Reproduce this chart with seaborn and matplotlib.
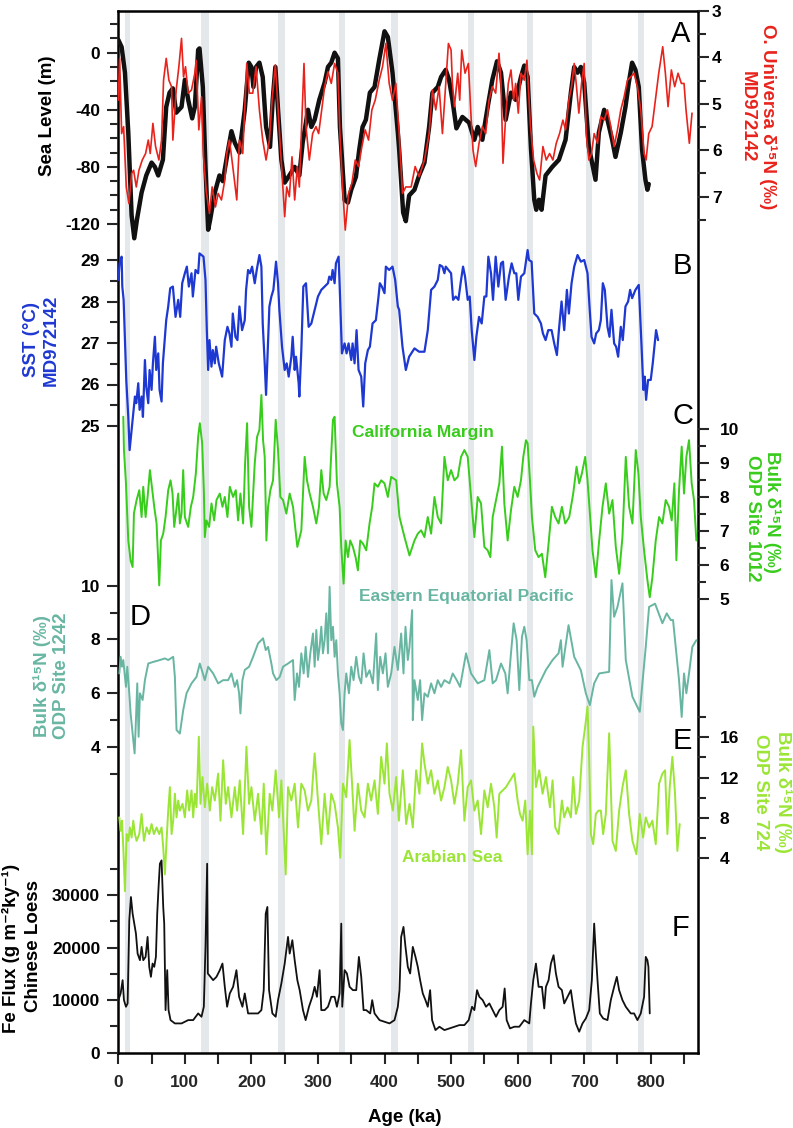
import matplotlib
matplotlib.use("Agg")
import matplotlib.pyplot as plt
import seaborn as sns

# ---------------- data ----------------
band_start = [10, 124, 240, 332, 410, 525, 614, 703, 781]
band_end = [18, 136, 250, 340, 420, 534, 623, 712, 790]

sl_age = [0, 5, 10, 15, 20, 24, 28, 35, 42, 50, 55, 60, 67, 72, 77, 82, 87, 95, 100, 105, 111, 115, 120, 122,
          127, 131, 135, 138, 145, 152, 157, 165, 170, 175, 182, 190, 196, 200, 203, 207, 212, 217, 222, 228,
          232, 236, 240, 245, 250, 257, 265, 272, 277, 285, 290, 295, 302, 310, 315, 320, 325, 330, 333, 340,
          345, 350, 357, 362, 367, 372, 378, 385, 392, 400, 405, 412, 420, 422, 428, 432, 437, 445, 452, 460,
          467, 472, 480, 485, 492, 497, 502, 508, 517, 527, 535, 540, 547, 555, 562, 569, 575, 582, 590, 597,
          605, 610, 615, 620, 625, 628, 632, 636, 642, 652, 662, 672, 680, 685, 690, 695, 700, 707, 717, 722,
          730, 735, 742, 747, 755, 762, 767, 772, 777, 782, 787, 792, 795, 797]
sl_val = [9, 4, -14, -56, -114, -130, -117, -98, -86, -77, -80, -86, -75, -38, -28, -25, -42, -38, -19, -33, -46,
          -38, 2, 3, -24, -80, -124, -117, -98, -86, -90, -68, -55, -63, -70, -40, -7, -10, -24, -10, -7, -17,
          -52, -66, -33, -10, -40, -75, -91, -86, -80, -86, -63, -40, -52, -47, -33, -21, -10, -7, 0, -4, -52,
          -103, -105, -96, -87, -68, -52, -47, -28, -24, -5, 15, 11, -14, -56, -68, -112, -118, -100, -96, -86,
          -77, -52, -28, -24, -17, -12, -19, -33, -53, -45, -49, -61, -52, -61, -38, -19, -6, -14, -47, -28,
          -33, -17, -9, -17, -67, -103, -110, -103, -110, -86, -80, -75, -61, -28, -10, -14, -10, -21, -66,
          -89, -56, -40, -47, -61, -73, -56, -38, -21, -7, -12, -24, -68, -89, -96, -92]

ou_age = [0, 2, 5, 8, 12, 16, 20, 23, 27, 31, 36, 41, 45, 48, 52, 56, 61, 65, 68, 72, 76, 80, 82, 87, 91, 95,
          98, 101, 105, 110, 115, 117, 121, 125, 128, 132, 137, 141, 146, 150, 155, 160, 163, 167, 172, 178,
          182, 187, 193, 197, 202, 207, 212, 217, 222, 227, 231, 236, 241, 246, 250, 253, 257, 261, 265, 269,
          272, 276, 279, 282, 287, 292, 297, 301, 305, 310, 315, 320, 325, 330, 333, 337, 341, 346, 351, 356,
          361, 366, 371, 376, 381, 386, 392, 397, 402, 407, 412, 417, 422, 427, 432, 440, 446, 452, 460, 467,
          472, 477, 482, 487, 492, 496, 500, 502, 505, 510, 513, 516, 521, 526, 530, 533, 537, 542, 547, 552,
          557, 562, 567, 572, 575, 578, 582, 586, 590, 594, 597, 601, 605, 610, 614, 619, 624, 629, 633, 638,
          643, 648, 653, 658, 663, 668, 672, 677, 681, 685, 688, 692, 696, 700, 703, 707, 711, 715, 720, 725,
          730, 735, 740, 745, 750, 755, 760, 765, 770, 775, 780, 785, 790, 793, 797, 802, 807, 812, 818, 822,
          826, 831, 836, 841, 846, 850, 853, 858, 862]
ou_val = [4.92, 4.02, 5.64, 5.49, 6.79, 7.15, 6.50, 6.43, 6.79, 6.43, 6.21, 6.07, 5.78, 6.07, 5.42, 5.92, 6.21,
          5.78, 4.49, 4.02, 4.49, 4.63, 5.78, 4.70, 4.20, 3.59, 4.42, 4.20, 4.77, 4.70, 4.34, 4.06, 5.56, 4.85,
          6.14, 6.86, 7.36, 6.79, 7.22, 6.93, 7.07, 6.64, 6.07, 5.78, 6.35, 7.07, 5.78, 6.07, 4.13, 4.77, 4.77,
          4.20, 5.13, 5.78, 6.21, 5.78, 4.92, 4.16, 5.35, 6.50, 7.43, 6.79, 7.00, 6.14, 7.07, 6.35, 6.79, 5.28,
          4.13, 5.49, 6.21, 5.64, 5.49, 5.64, 5.20, 4.63, 4.31, 4.56, 4.13, 4.34, 5.64, 6.79, 7.72, 6.93, 6.71,
          6.21, 6.35, 5.92, 5.56, 5.78, 5.13, 4.92, 4.49, 4.20, 3.70, 4.56, 4.92, 4.56, 5.64, 6.93, 6.79, 6.79,
          6.35, 6.57, 6.21, 5.64, 4.70, 5.13, 4.63, 5.64, 4.56, 3.70, 3.84, 4.56, 5.06, 4.34, 4.92, 3.84, 4.34,
          4.13, 5.28, 6.00, 6.35, 5.85, 5.49, 5.64, 4.92, 4.63, 4.77, 3.91, 4.56, 6.28, 5.28, 4.56, 4.27, 4.92,
          4.56, 5.20, 4.34, 4.49, 4.06, 5.42, 6.21, 6.50, 6.64, 5.92, 6.21, 6.07, 6.21, 5.85, 5.64, 5.35, 5.56,
          4.92, 4.63, 4.13, 4.56, 5.20, 4.56, 4.13, 5.64, 6.21, 6.07, 5.64, 5.85, 5.28, 5.35, 5.13, 5.49, 5.92,
          5.56, 5.13, 4.85, 4.49, 4.42, 4.34, 4.63, 5.13, 6.07, 6.21, 5.64, 5.49, 4.92, 4.34, 3.77, 4.34, 5.06,
          4.27, 4.63, 4.34, 4.56, 4.56, 5.13, 5.85, 5.20]

sst_age = [0, 2, 5, 6, 8, 10, 12, 15, 17, 20, 22, 25, 27, 30, 32, 35, 37, 40, 42, 45, 47, 50, 52, 55, 57, 60,
           62, 65, 67, 72, 75, 78, 82, 86, 90, 93, 96, 100, 103, 106, 110, 112, 116, 120, 122, 128, 131, 133,
           135, 137, 140, 142, 145, 147, 151, 156, 160, 164, 167, 170, 172, 176, 179, 182, 186, 190, 192, 195,
           198, 201, 205, 208, 212, 215, 217, 220, 222, 225, 227, 230, 233, 237, 240, 242, 246, 250, 253, 256,
           260, 262, 265, 267, 271, 272, 275, 278, 282, 286, 290, 295, 300, 305, 310, 315, 317, 320, 322, 325,
           327, 331, 333, 336, 340, 343, 346, 350, 352, 355, 358, 361, 365, 368, 371, 375, 378, 382, 387, 391,
           393, 396, 400, 402, 407, 412, 416, 420, 422, 427, 432, 437, 445, 452, 460, 465, 470, 475, 480, 483,
           487, 490, 492, 496, 500, 503, 507, 511, 515, 518, 521, 525, 528, 531, 535, 538, 542, 546, 550, 553,
           556, 560, 563, 567, 571, 575, 578, 582, 587, 591, 595, 598, 601, 605, 610, 615, 617, 621, 625, 630,
           635, 638, 642, 646, 651, 655, 659, 662, 666, 670, 674, 677, 681, 685, 690, 695, 700, 705, 708, 711,
           715, 718, 722, 725, 728, 731, 735, 738, 741, 745, 748, 751, 755, 758, 762, 766, 769, 772, 777, 782,
           786, 789, 791, 793, 796, 800, 803, 808, 811]
sst_val = [28.52, 28.92, 29.08, 28.36, 28.04, 27.07, 26.10, 25.22, 24.42, 24.90, 25.22, 25.71, 25.55, 26.03,
           25.39, 25.71, 25.22, 26.59, 25.95, 25.55, 26.35, 25.87, 26.51, 27.15, 26.35, 26.75, 25.87, 25.59,
           26.51, 27.55, 27.88, 28.32, 28.36, 27.63, 28.04, 27.63, 28.44, 28.68, 28.84, 28.36, 28.68, 28.12,
           28.76, 28.68, 29.16, 29.08, 28.52, 27.31, 26.35, 27.07, 26.43, 26.83, 26.51, 26.91, 26.51, 26.19,
           27.07, 27.39, 27.23, 26.91, 27.71, 27.15, 27.07, 27.88, 27.31, 27.55, 28.28, 28.76, 28.68, 28.84,
           28.44, 28.76, 29.12, 28.84, 27.47, 26.51, 25.75, 27.07, 27.88, 28.12, 28.28, 28.96, 28.44, 27.80,
           26.91, 26.35, 26.51, 26.19, 26.67, 27.15, 26.35, 26.67, 26.03, 25.71, 26.83, 28.36, 28.44, 27.39,
           27.47, 27.80, 28.12, 28.28, 28.36, 28.44, 28.60, 28.52, 28.76, 28.44, 28.92, 29.08, 28.20, 26.75,
           26.99, 26.75, 26.99, 26.59, 26.99, 26.51, 27.31, 26.35, 26.19, 25.47, 26.51, 26.83, 26.91, 27.47,
           27.55, 28.12, 28.44, 28.36, 28.20, 28.84, 28.76, 28.84, 28.52, 27.88, 27.80, 26.91, 26.35, 26.67,
           26.87, 26.79, 26.79, 27.31, 28.28, 28.36, 28.52, 28.88, 28.84, 28.68, 28.84, 28.76, 28.68, 28.04,
           28.12, 28.04, 28.52, 28.84, 28.60, 28.04, 28.12, 27.31, 26.59, 27.15, 27.63, 27.47, 28.12, 28.12,
           29.08, 28.68, 28.04, 29.08, 28.36, 28.92, 28.96, 28.04, 28.60, 28.92, 28.68, 28.68, 28.04, 28.60,
           28.68, 29.24, 29.00, 28.96, 27.71, 27.63, 27.47, 27.23, 27.07, 27.31, 27.31, 26.99, 26.71, 27.31,
           28.00, 27.31, 28.28, 27.71, 28.44, 28.84, 29.12, 28.96, 29.00, 28.68, 27.88, 27.15, 26.99, 27.23,
           27.31, 27.55, 28.44, 28.28, 27.39, 27.15, 27.80, 26.99, 26.91, 26.67, 27.39, 27.07, 27.88, 28.00,
           28.28, 28.08, 28.28, 28.40, 26.99, 25.87, 26.19, 25.63, 26.11, 26.11, 26.51, 27.31, 27.07]

cal_age = [7.5, 8.5, 11.5, 15, 18.5, 21.5, 23.5, 27.5, 31.5, 35, 37.5, 41, 44, 47.5, 51, 54, 57.5, 60, 61.5, 64,
           67.5, 71, 75, 78.5, 81.5, 84, 86.5, 90, 92.5, 95, 97.5, 100, 105, 109, 112.5, 116.5, 120, 122.5, 126,
           128.5, 130, 132.5, 136.5, 140, 144, 147.5, 152.5, 156.5, 160, 164, 167.5, 172.5, 176.5, 180, 183.5,
           187.5, 190.5, 193.5, 196.5, 200, 205, 208.5, 212, 215, 217.5, 220, 222.5, 225, 228.5, 232.5, 236.5,
           240, 243.5, 247.5, 252.5, 257.5, 262.5, 269, 275, 280, 283.5, 287.5, 292.5, 297.5, 301.5, 305, 308.5,
           312.5, 317.5, 322.5, 325, 328.5, 332.5, 335, 338.5, 341.5, 345, 348.5, 352.5, 356.5, 360, 363.5,
           367.5, 372.5, 377.5, 381.5, 385, 390, 395, 400, 405, 410, 417.5, 422.5, 430, 437.5, 445, 450, 455,
           460, 465, 470, 475, 480, 485, 490, 495, 500, 505, 510, 515, 520, 525, 530, 535, 540, 545, 550, 555,
           559, 562.5, 567.5, 572.5, 576.5, 580, 585, 590, 595, 600, 605, 608.5, 612.5, 615, 618.5, 621.5,
           626.5, 631.5, 636.5, 641.5, 646.5, 651.5, 656.5, 661.5, 666.5, 671.5, 677.5, 683.5, 688.5, 692.5,
           696.5, 701.5, 705, 708.5, 712.5, 717.5, 722.5, 727.5, 732.5, 737.5, 742.5, 747.5, 752.5, 757.5,
           762.5, 767.5, 772.5, 777.5, 781.5, 785, 790, 795, 798.5, 802.5, 807.5, 812.5, 817.5, 822.5, 827.5,
           831.5, 835.5, 838.5, 842.5, 846.5, 850, 853.5, 857.5, 861.5, 865, 868.5]
cal_val = [10.37, 9.39, 8.41, 6.73, 6.14, 5.95, 7.53, 7.92, 8.21, 7.42, 8.31, 7.42, 8.01, 8.80, 8.21, 7.72, 7.23,
           6.05, 5.41, 6.73, 6.93, 7.42, 8.21, 8.50, 8.11, 7.13, 7.52, 8.11, 7.23, 7.52, 8.80, 7.42, 7.13, 7.72,
           8.01, 8.70, 9.78, 10.18, 9.59, 8.21, 6.83, 7.32, 7.13, 7.82, 7.32, 7.92, 8.11, 7.72, 8.01, 7.42, 8.31,
           8.01, 8.21, 7.32, 8.11, 7.23, 9.00, 10.18, 7.72, 7.13, 9.00, 9.78, 9.98, 11.01, 9.68, 9.19, 6.73,
           7.72, 8.21, 8.50, 10.28, 9.39, 8.01, 7.92, 7.52, 8.11, 7.72, 6.54, 7.03, 9.19, 8.50, 8.11, 7.72, 7.23,
           7.72, 8.80, 8.11, 7.92, 8.31, 10.28, 10.37, 8.41, 7.72, 6.54, 5.46, 6.73, 6.24, 6.73, 6.54, 6.24,
           5.85, 6.73, 6.64, 6.44, 7.23, 7.72, 8.41, 8.31, 8.50, 8.41, 8.01, 8.60, 8.50, 7.42, 6.83, 6.29, 6.73,
           6.93, 7.03, 6.83, 7.42, 6.93, 8.01, 7.42, 7.23, 9.19, 8.50, 8.80, 8.50, 8.60, 9.19, 9.39, 9.19, 8.01,
           6.83, 8.01, 7.82, 6.54, 6.44, 6.24, 7.42, 7.92, 8.41, 9.49, 7.82, 6.73, 7.62, 8.31, 8.01, 8.50, 9.19,
           9.68, 9.59, 8.50, 7.42, 6.44, 6.24, 6.34, 5.65, 6.64, 7.72, 7.42, 7.23, 7.72, 7.23, 7.42, 8.11, 8.90,
           8.41, 8.70, 9.19, 8.50, 7.52, 6.44, 5.65, 6.73, 7.72, 8.41, 7.52, 7.92, 6.54, 5.75, 6.83, 9.19, 7.72,
           7.23, 9.39, 8.70, 7.42, 6.44, 5.56, 5.06, 5.65, 6.73, 7.42, 7.23, 7.92, 7.72, 7.32, 8.41, 6.15, 8.21,
           9.49, 8.11, 9.19, 9.68, 8.41, 7.92, 6.73]

eep_age = [1.5, 3.5, 5.5, 7.5, 9.5, 11.5, 13.5, 16.5, 18.5, 20.5, 22.5, 24.5, 26.5, 28.5, 30.5, 32.5, 36.5, 40,
           45, 52.5, 62.5, 70, 75, 82.5, 85, 87.5, 92.5, 97.5, 102.5, 110, 117.5, 122.5, 130, 135, 142.5, 150,
           157.5, 165, 170, 175, 178.5, 181.5, 183.5, 186.5, 190, 196.5, 202.5, 210, 217.5, 221.5, 225, 230,
           232.5, 237.5, 242.5, 247.5, 255, 262.5, 265, 268.5, 271.5, 275, 278.5, 281.5, 285, 288.5, 292.5,
           295, 297.5, 300, 302.5, 305, 307.5, 310, 312.5, 315, 317.5, 320, 322.5, 325, 327.5, 330, 332.5, 335,
           337.5, 340, 342.5, 346.5, 350, 353.5, 357.5, 361.5, 365, 368.5, 372.5, 377.5, 382.5, 387.5, 390,
           393.5, 397.5, 401.5, 405, 410, 415, 420, 425, 428.5, 431.5, 435, 437.5, 441.5, 442.5, 445, 450,
           453.5, 456.5, 460, 465, 470, 475, 480, 485, 490, 497.5, 502.5, 508.5, 513.5, 522.5, 530, 540, 550,
           557.5, 562.5, 567.5, 575, 581.5, 585, 590, 594, 598.5, 602.5, 606.5, 610, 613.5, 617.5, 621.5, 625,
           630, 635, 642.5, 652.5, 661.5, 665, 667.5, 676.5, 685, 695, 702.5, 708.5, 715, 722.5, 737.5, 741,
           745, 750, 757.5, 762.5, 772.5, 783.5, 792.5, 797.5, 806.5, 817.5, 824, 830, 833.5, 837.5, 842.5,
           846.5, 850, 853.5, 857.5, 862.5, 868.5]
eep_val = [6.73, 7.35, 6.98, 7.23, 6.73, 6.23, 6.98, 5.99, 5.24, 4.74, 4.24, 3.75, 4.99, 6.36, 4.37, 5.99, 5.74,
           6.48, 7.10, 7.16, 7.23, 7.29, 7.23, 7.35, 6.60, 4.62, 4.49, 5.36, 5.99, 6.36, 6.60, 7.10, 6.48, 6.98,
           6.73, 6.36, 6.48, 6.48, 6.73, 6.23, 6.48, 5.99, 5.24, 6.48, 6.86, 6.98, 7.35, 7.85, 8.04, 7.60, 7.72,
           7.10, 6.73, 6.48, 6.60, 6.98, 7.10, 7.23, 5.74, 6.73, 6.23, 7.48, 6.73, 7.72, 6.60, 7.48, 8.22, 6.98,
           8.35, 7.23, 7.72, 8.47, 7.48, 7.97, 8.97, 7.48, 9.96, 7.97, 8.47, 7.35, 7.97, 6.73, 5.99, 4.87, 4.62,
           5.99, 6.73, 5.99, 6.98, 6.48, 7.35, 6.60, 6.36, 7.48, 6.60, 6.85, 6.36, 8.22, 6.11, 7.35, 6.73, 7.48,
           6.23, 6.73, 7.72, 6.86, 8.22, 6.73, 8.47, 7.23, 7.72, 9.09, 4.99, 6.48, 5.74, 6.48, 4.99, 5.99, 5.86,
           6.36, 5.99, 6.48, 6.23, 6.48, 6.36, 6.73, 6.48, 6.23, 7.48, 6.73, 6.36, 6.48, 7.60, 6.36, 6.48, 7.10,
           6.73, 5.99, 7.48, 8.60, 7.97, 6.11, 8.10, 8.47, 7.97, 6.48, 6.48, 5.86, 6.23, 6.48, 6.86, 7.23, 7.48,
           7.97, 6.98, 8.53, 7.35, 6.85, 5.99, 5.55, 6.36, 6.73, 6.79, 10.21, 8.84, 9.21, 10.09, 7.23, 5.86,
           5.30, 7.72, 9.21, 9.33, 8.60, 8.97, 8.72, 8.72, 7.72, 6.48, 5.11, 6.73, 5.99, 6.73, 7.72, 7.97]

ara_age = [1.5, 3.5, 5.5, 7.5, 10, 12.5, 15, 17.5, 20, 22.5, 25, 27.5, 31.5, 35, 38.5, 42.5, 46.5, 50, 53.5,
           57.5, 61.5, 65, 67.5, 70, 72.5, 75, 77.5, 80, 82.5, 85, 87.5, 90, 92.5, 96.5, 100, 103.5, 106.5, 110,
           112.5, 115, 117.5, 121, 123.5, 126.5, 130, 133.5, 137.5, 141, 145, 150, 153.5, 157.5, 161.5, 165,
           170, 175, 178.5, 182.5, 187.5, 192.5, 196.5, 200, 205, 210, 215, 218.5, 222.5, 227.5, 231.5, 236.5,
           241.5, 245, 251.5, 255, 260, 265, 270, 275, 280, 285, 290, 295, 300, 305, 310, 315, 320, 325, 330,
           333.5, 337.5, 342.5, 347.5, 351.5, 355, 360, 365, 370, 375, 380, 385, 390, 395, 400, 403.5, 407.5,
           412.5, 417.5, 421.5, 427.5, 432.5, 437.5, 442.5, 447.5, 452.5, 456.5, 460, 465, 470, 475, 480, 485,
           490, 495, 500, 505, 510, 515, 520, 525, 530, 535, 540, 545, 550, 555, 560, 565, 568.5, 572.5, 582.5,
           595, 600, 603.5, 607.5, 611.5, 615, 618.5, 621.5, 623.5, 627.5, 632.5, 637.5, 642.5, 648.5, 652.5,
           656.5, 661.5, 666.5, 670, 675, 680, 683.5, 687.5, 692.5, 697.5, 701.5, 705, 707.5, 710, 713.5, 717.5,
           721.5, 725, 728.5, 732.5, 737.5, 742.5, 747.5, 752.5, 757.5, 762.5, 767.5, 772.5, 778.5, 783.5,
           788.5, 792.5, 797.5, 802.5, 807.5, 812.5, 817.5, 821.5, 825, 828.5, 832.5, 836.5, 840, 843.5]
ara_val = [8.06, 6.73, 7.73, 5.06, 0.73, 6.40, 5.73, 7.06, 6.06, 7.73, 6.40, 5.73, 6.40, 8.40, 5.73, 7.06, 6.40,
           7.40, 6.40, 7.06, 6.40, 7.06, 5.06, 2.40, 5.73, 8.73, 11.06, 6.40, 7.73, 10.40, 8.06, 9.73, 8.73,
           9.40, 8.06, 10.73, 8.73, 10.73, 8.06, 10.40, 9.06, 16.06, 9.40, 12.06, 9.06, 11.40, 8.73, 11.06,
           9.73, 12.40, 7.73, 13.73, 9.40, 11.06, 8.06, 11.06, 8.73, 11.73, 6.40, 15.06, 9.40, 11.06, 7.73,
           10.40, 6.40, 11.40, 4.40, 10.40, 8.73, 12.73, 8.06, 11.73, 2.40, 11.06, 9.73, 11.40, 7.06, 11.40,
           10.73, 8.73, 9.73, 14.40, 9.73, 5.40, 10.40, 6.40, 10.40, 9.40, 7.06, 4.06, 11.40, 10.06, 15.73,
           11.06, 6.73, 11.40, 8.73, 8.06, 11.40, 9.73, 11.73, 8.40, 14.06, 11.40, 15.40, 10.40, 8.73, 12.06,
           7.73, 12.73, 7.40, 9.40, 7.06, 12.73, 10.40, 15.40, 13.40, 11.40, 12.73, 10.40, 11.73, 9.73, 11.06,
           13.06, 11.73, 9.40, 11.40, 14.73, 7.73, 11.06, 11.73, 8.73, 9.73, 6.40, 10.73, 9.06, 11.40, 9.06,
           6.06, 10.40, 11.06, 12.40, 9.73, 8.40, 7.73, 9.73, 4.40, 8.73, 4.40, 17.06, 11.06, 12.73, 10.40,
           12.06, 9.06, 11.73, 7.06, 6.40, 9.73, 8.06, 9.06, 8.06, 12.06, 8.40, 9.73, 15.06, 17.06, 19.06,
           13.73, 6.40, 5.40, 8.40, 8.73, 8.73, 6.40, 8.40, 16.40, 5.73, 4.73, 8.73, 11.06, 12.73, 8.40, 5.73,
           4.40, 8.40, 6.06, 8.06, 7.06, 7.73, 5.40, 11.40, 12.40, 12.73, 6.40, 11.06, 14.06, 10.40, 4.73, 7.40]

fe_age = [0, 3.5, 6.5, 8.5, 11.5, 14, 16.5, 19, 21.5, 24, 26.5, 29, 32.5, 35, 37.5, 41, 44, 46.5, 49, 51.5, 54,
          56.5, 58.5, 60.5, 62.5, 65, 67.5, 69, 71, 73.5, 75.5, 78.5, 85, 95, 105, 112.5, 120, 125, 128.5, 131,
          133.5, 134.5, 138.5, 142.5, 147.5, 152.5, 156.5, 160, 163.5, 167.5, 172.5, 177.5, 181.5, 186.5, 190,
          195, 202.5, 210, 215, 218.5, 221.5, 224, 226.5, 231.5, 236.5, 240, 245, 250, 255, 257.5, 261.5, 265,
          269, 272.5, 277.5, 281.5, 286.5, 291.5, 295, 298.5, 302.5, 305, 310, 315, 320, 325, 328.5, 332.5,
          335, 336.5, 340, 343.5, 347.5, 352.5, 357.5, 361.5, 365, 368.5, 372.5, 378.5, 381.5, 385, 392.5,
          400, 407.5, 415, 420, 422.5, 425, 428.5, 431.5, 435, 438.5, 442.5, 446.5, 450, 453.5, 457.5, 461.5,
          465, 468.5, 471.5, 476.5, 482.5, 490, 497.5, 505, 512.5, 520, 526.5, 531.5, 535, 539, 542.5, 547.5,
          552.5, 557.5, 562.5, 567.5, 572.5, 577.5, 580.5, 583.5, 588.5, 595, 602.5, 610, 617.5, 620, 623.5,
          627.5, 631.5, 636.5, 640, 642.5, 646.5, 650, 654, 657.5, 661.5, 666.5, 670, 675, 680, 683.5, 687.5,
          692.5, 697.5, 702.5, 707.5, 711.5, 715, 717.5, 720, 723.5, 728.5, 735, 740, 745, 749, 752.5, 757.5,
          762.5, 770, 775, 780, 785, 790, 792.5, 795, 796.5, 798.5]
fe_val = [10000, 11270, 13800, 10000, 8740, 9370, 25190, 29620, 26460, 24560, 22660, 18860, 17600, 20130, 17600,
          18230, 22030, 16330, 14430, 16960, 16330, 18230, 26460, 31520, 35950, 36590, 27730, 24560, 8100,
          15700, 8100, 6200, 5570, 5570, 6200, 6200, 7470, 6840, 8740, 20130, 35950, 15070, 14430, 13800, 14430,
          15700, 16960, 12530, 8740, 11270, 12530, 15700, 10630, 8740, 11270, 7470, 7470, 7470, 8100, 11900,
          26460, 27730, 11900, 7470, 6840, 10000, 13170, 16960, 22030, 18860, 21400, 17600, 13800, 11900, 8100,
          6200, 8740, 10630, 12530, 10630, 15700, 8100, 8100, 8740, 10630, 10630, 8740, 11270, 24560, 8740,
          15700, 15070, 12530, 11900, 11900, 18230, 14430, 8100, 8100, 7470, 10000, 7470, 6200, 5890, 5570,
          6200, 8740, 11900, 22030, 23930, 20130, 16330, 15070, 20130, 18230, 16330, 13800, 11270, 10000, 8740,
          11900, 6200, 4300, 4940, 4300, 4620, 4940, 5250, 5250, 6200, 8740, 8100, 11900, 10630, 10000, 8740,
          9370, 8100, 6840, 8100, 8740, 12220, 6200, 4620, 4940, 4940, 6200, 5570, 9370, 13800, 16960, 12530,
          12530, 8420, 12530, 13800, 16960, 18550, 15070, 12530, 11900, 9370, 10630, 11900, 8740, 5570, 3990,
          5570, 6520, 8100, 13800, 24560, 18860, 13800, 7470, 6520, 6200, 10000, 12530, 14430, 11900, 10000,
          8740, 7470, 7470, 6200, 7470, 10630, 18230, 17600, 16330, 7470]

age_major = [0, 100, 200, 300, 400, 500, 600, 700, 800]
age_minor = [50, 150, 250, 350, 450, 550, 650, 750, 850]
sl_ticks = [-120, -80, -40, 0]
sl_minor = [-110, -100, -90, -70, -60, -50, -30, -20, -10, 10, 20]
ou_ticks = [3, 4, 5, 6, 7]
ou_minor = [3.5, 4.5, 5.5, 6.5, 7.5]
sst_ticks = [25, 26, 27, 28, 29]
sst_minor = [25.5, 26.5, 27.5, 28.5]
cal_ticks = [5, 6, 7, 8, 9, 10]
cal_minor = [5.5, 6.5, 7.5, 8.5, 9.5]
eep_ticks = [4, 6, 8, 10]
eep_minor = [3, 5, 7, 9]
ara_ticks = [4, 8, 12, 16]
ara_minor = [6, 10, 14, 18]
fe_ticks = [0, 10000, 20000, 30000]
fe_minor = [5000, 15000, 25000, 35000]

# ---------------- styling ----------------
sns.set_style("ticks")
plt.rcParams['font.family'] = ['Liberation Sans', 'DejaVu Sans']
plt.rcParams['font.weight'] = 'bold'
plt.rcParams['axes.unicode_minus'] = False

C_BLACK = "#111111"
C_RED = "#e8231c"
C_BLUE = "#1e38d2"
C_GREEN = "#38cc1c"
C_TEAL = "#68b6a2"
C_LIME = "#9be536"
C_BAND = "#e5e8ea"

W, H = 793, 1128
fig = plt.figure(figsize=(W / 100, H / 100), dpi=100)
PL, PR, PT, PB = 118.3, 698.0, 11.0, 1052.7
rect = [PL / W, 1 - PB / H, (PR - PL) / W, (PB - PT) / H]
XMIN, XMAX = 0, 871

frame = fig.add_axes(rect)
frame.set_xlim(XMIN, XMAX)
frame.set_ylim(0, 1)
for s, e in zip(band_start, band_end):
    frame.axvspan(s, e, color=C_BAND, lw=0, zorder=0)
frame.set_yticks([])
frame.set_xticks(age_major)
frame.set_xticks(age_minor, minor=True)
frame.set_xticklabels([str(a) for a in age_major])
for sp in frame.spines.values():
    sp.set_linewidth(1.8)
    sp.set_color("black")
frame.tick_params(axis='x', which='major', length=8, width=1.5, pad=8, labelsize=12.5, direction='out')
frame.tick_params(axis='x', which='minor', length=8, width=1.5, direction='out')


def px_ylim(v1, p1, v2, p2):
    s = (p2 - p1) / (v2 - v1)
    top = v1 + (PT - p1) / s
    bot = v1 + (PB - p1) / s
    return bot, top


def panel(lims, side, major, minor, pad=5, lab_color="black"):
    ax = fig.add_axes(rect)
    ax.patch.set_alpha(0)
    ax.set_xlim(XMIN, XMAX)
    ax.set_ylim(*lims)
    for sp in ax.spines.values():
        sp.set_visible(False)
    ax.tick_params(axis='x', which='both', bottom=False, labelbottom=False, top=False)
    if side == 'right':
        ax.yaxis.tick_right()
    else:
        ax.yaxis.tick_left()
    ax.set_yticks(major)
    ax.set_yticks(minor, minor=True)
    ax.set_yticklabels([str(m) for m in major])
    ax.tick_params(axis='y', which='major', length=8, width=1.5, pad=pad, labelsize=12.5,
                   labelcolor=lab_color, direction='out')
    ax.tick_params(axis='y', which='minor', length=5.5, width=1.5, direction='out')
    return ax


def draw(ax, x, y, color, lw):
    sns.lineplot(x=x, y=y, ax=ax, color=color, lw=lw, estimator=None, sort=False)
    ax.set_xlabel("")
    ax.set_ylabel("")
    ax.set_xlim(XMIN, XMAX)


# Panel A
axA = panel(px_ylim(0, 52.7, -120, 224.0), 'left', sl_ticks, sl_minor)
draw(axA, sl_age, sl_val, C_BLACK, 3.2)
axA2 = panel(px_ylim(3, 11.0, 7, 196.7), 'right', ou_ticks, ou_minor, pad=2)
draw(axA2, ou_age, ou_val, C_RED, 1.2)
# Panel B
axB = panel(px_ylim(29, 260.0, 25, 426.0), 'left', sst_ticks, sst_minor)
draw(axB, sst_age, sst_val, C_BLUE, 1.6)
# Panel C
axC = panel(px_ylim(10, 429.3, 5, 599.3), 'right', cal_ticks, cal_minor, pad=7.5)
draw(axC, cal_age, cal_val, C_GREEN, 1.4)
# Panel D
axD = panel(px_ylim(10, 585.7, 4, 746.7), 'left', eep_ticks, eep_minor)
draw(axD, eep_age, eep_val, C_TEAL, 1.4)
# Panel E
axE = panel(px_ylim(16, 737.3, 4, 858.3), 'right', ara_ticks, ara_minor, pad=7.5)
draw(axE, ara_age, ara_val, C_LIME, 1.4)
# Panel F
axF = panel(px_ylim(0, 1052.7, 30000, 895.0), 'left', fe_ticks, fe_minor)
draw(axF, fe_age, fe_val, C_BLACK, 1.3)


def ftext(x, y, s, color="black", size=13.5, rot=0, weight='bold'):
    fig.text(x / W, 1 - y / H, s, color=color, fontsize=size, rotation=rot, ha='center', va='center',
             fontweight=weight, rotation_mode='anchor')


# axis labels (left)
ftext(47.5, 116, "Sea Level (m)", rot=90)
ftext(31, 340, "SST (°C)", C_BLUE, rot=90)
ftext(51, 340, "MD972142", C_BLUE, rot=90)
ftext(42, 676, "Bulk δ¹⁵N (‰)", C_TEAL, rot=90)
ftext(61, 676, "ODP Site 1242", C_TEAL, rot=90)
ftext(11, 948, "Fe Flux (g m⁻²ky⁻¹)", rot=90)
ftext(33, 946, "Chinese Loess", rot=90)
# axis labels (right)
ftext(768, 117, "O. Universa δ¹⁵N (‰)", C_RED, rot=270)
ftext(747, 117, "MD972142", C_RED, rot=270)
ftext(772, 512, "Bulk δ¹⁵N (‰)", C_GREEN, rot=270)
ftext(752, 518, "ODP Site 1012", C_GREEN, rot=270)
ftext(783, 792, "Bulk δ¹⁵N (‰)", C_LIME, rot=270)
ftext(760, 792, "ODP Site 724", C_LIME, rot=270)
# x label
ftext(405, 1117, "Age (ka)")
# region annotations
ftext(423, 432, "California Margin", C_GREEN, size=12.5)
ftext(466, 597, "Eastern Equatorial Pacific", C_TEAL, size=12.5)
ftext(452, 858, "Arabian Sea", C_LIME, size=12.5)
# panel letters
for letter, (lx, ly) in zip("ABCDEF", [(681, 34), (682, 266), (683, 416), (140, 617), (682, 741), (681, 928)]):
    ftext(lx, ly, letter, size=21, weight='normal')

fig.savefig("out.png", dpi=100)
